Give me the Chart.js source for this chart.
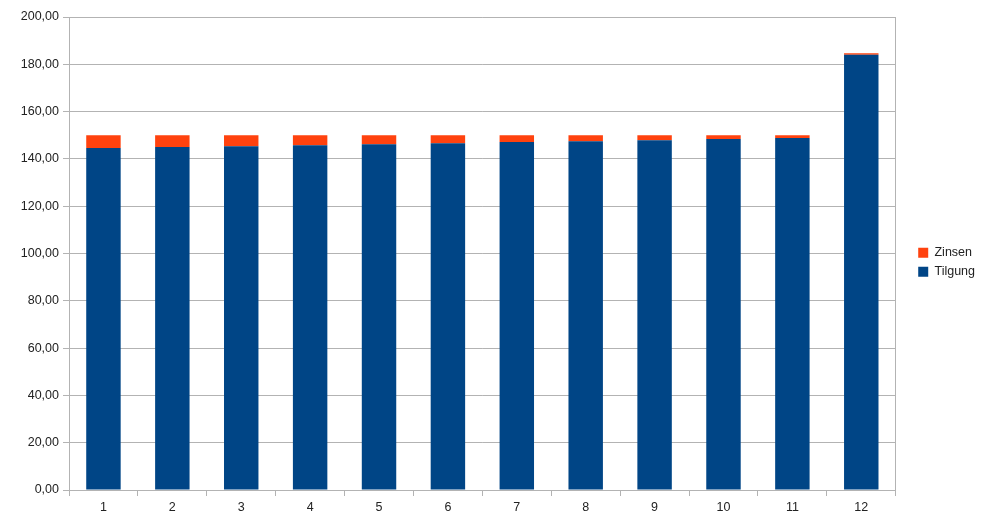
<!DOCTYPE html>
<html>
<head>
<meta charset="utf-8">
<script src="https://cdn.jsdelivr.net/npm/chart.js@4/dist/chart.umd.min.js"></script>
<style>
  html, body { margin: 0; padding: 0; background: #fff; }
  #wrap { width: 987px; height: 526px; }
</style>
</head>
<body>
<div id="wrap"><canvas id="myChart"></canvas></div>
<script>
const monate = ['1', '2', '3', '4', '5', '6', '7', '8', '9', '10', '11', '12'];
const tilgung = [144.6, 145.0, 145.4, 145.8, 146.2, 146.6, 147.1, 147.5, 147.9, 148.4, 148.8, 184.0];
const zinsen = [5.4, 5.0, 4.6, 4.2, 3.8, 3.4, 2.9, 2.5, 2.1, 1.6, 1.2, 0.7];

const gridColor = '#b3b3b3';
Chart.defaults.font.family = '"Liberation Sans", Arial, sans-serif';
Chart.defaults.font.size = 12.5;
Chart.defaults.color = '#222';

const ctx = document.getElementById('myChart').getContext('2d');
new Chart(ctx, {
  type: 'bar',
  data: {
    labels: monate,
    datasets: [{
      label: 'Tilgung',
      data: tilgung,
      backgroundColor: '#004586',
      barPercentage: 0.5,
      categoryPercentage: 1.0
    }, {
      label: 'Zinsen',
      data: zinsen,
      backgroundColor: '#ff420e',
      barPercentage: 0.5,
      categoryPercentage: 1.0
    }]
  },
  options: {
    responsive: true,
    maintainAspectRatio: false,
    animation: false,
    layout: { padding: { top: 17, left: 0, right: 2, bottom: 0 } },
    plugins: {
      tooltip: { enabled: false },
      legend: {
        position: 'right',
        align: 'start',
        reverse: true,
        // leerer Titel schiebt die Legende auf Hoehe der Mitte der Zeichenflaeche
        title: { display: true, text: '', padding: { top: 208, bottom: 0 } },
        labels: {
          boxWidth: 10,
          boxHeight: 10,
          padding: 6.5,
          color: '#222'
        }
      }
    },
    scales: {
      x: {
        stacked: true,
        grid: {
          drawOnChartArea: false,
          color: gridColor,
          tickLength: 6
        },
        border: { color: gridColor },
        ticks: { padding: 4, color: '#222' },
        afterFit: function(scale) { scale.height = 36; }
      },
      y: {
        stacked: true,
        min: 0,
        max: 200,
        ticks: {
          stepSize: 20,
          padding: 4,
          color: '#222',
          callback: function(v) { return v.toFixed(2).replace('.', ','); }
        },
        grid: { color: gridColor, tickLength: 6 },
        border: { color: gridColor },
        afterFit: function(scale) { scale.width = 69; }
      },
      y2: {
        position: 'right',
        min: 0,
        max: 200,
        ticks: { display: false },
        grid: { drawOnChartArea: false, drawTicks: false },
        border: { color: gridColor },
        afterFit: function(scale) { scale.width = 16; }
      }
    }
  }
});
</script>
</body>
</html>
